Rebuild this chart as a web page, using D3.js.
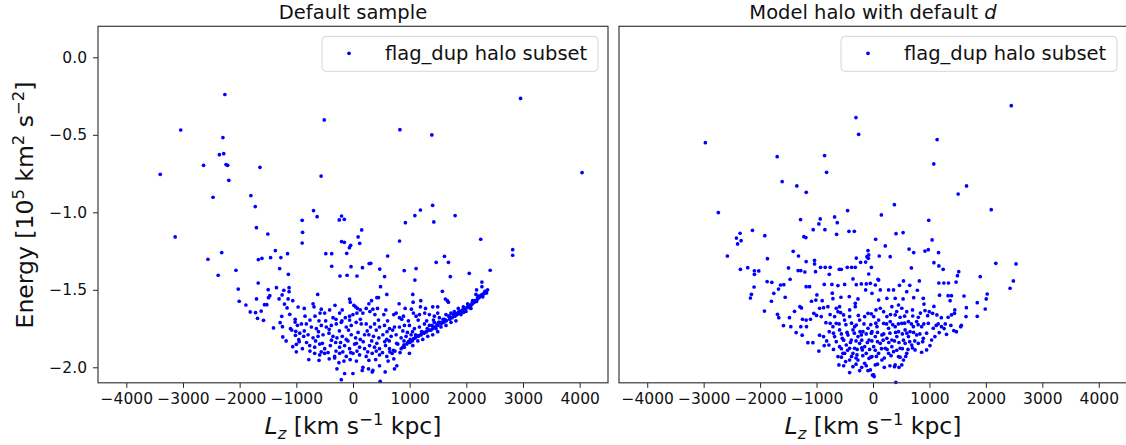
<!DOCTYPE html>
<html>
<head>
<meta charset="utf-8">
<script src="https://cdn.jsdelivr.net/npm/d3@7"></script>
<style>
  html, body { margin: 0; padding: 0; background: #fff; }
  svg { display: block; font-family: "DejaVu Sans", sans-serif; }
</style>
</head>
<body>
<div id="chart"></div>
<script>
/** values, [Lz (km/s kpc), Energy (1e5 km2/s2)] */
const xTicks = [-4000, -3000, -2000, -1000, 0, 1000, 2000, 3000, 4000];
const yTicks = [0, -0.5, -1.0, -1.5, -2.0];
const xDomain = [-4500, 4500];
const yDomain = [-2.1, 0.2];
const legendLabel = "flag_dup halo subset";

const defaultSample = [
  [-2261,-0.24],[2957,-0.265],[-508,-0.404],[-3040,-0.469],[828,-0.467],[1391,-0.501],[-2296,-0.518],
  [-2358,-0.628],[-2282,-0.622],[-2637,-0.697],[-2240,-0.692],[-2212,-0.697],[-1642,-0.71],[-3402,-0.755],
  [4042,-0.744],[-563,-0.766],[-2191,-0.794],[-1802,-0.892],[-2470,-0.903],[-1725,-0.963],[1405,-0.955],
  [-696,-0.989],[1190,-0.985],[1802,-1.021],[-633,-1.028],[1092,-1.021],[-202,-1.024],[-243,-1.049],
  [-153,-1.045],[-897,-1.052],[925,-1.067],[1426,-1.062],[-1704,-1.099],[153,-1.114],[-890,-1.129],
  [-1503,-1.14],[90,-1.159],[-3138,-1.159],[-202,-1.189],[821,-1.185],[-153,-1.194],[-897,-1.198],
  [2254,-1.174],[118,-1.2],[-42,-1.213],[-63,-1.228],[2818,-1.241],[2818,-1.277],[-1370,-1.247],
  [-2317,-1.26],[-1155,-1.267],[-480,-1.267],[-376,-1.267],[-111,-1.265],[612,-1.282],[1614,-1.284],
  [-2560,-1.303],[-1607,-1.297],[-1670,-1.305],[-1454,-1.292],[-1273,-1.292],[285,-1.331],[313,-1.329],
  [1468,-1.323],[1684,-1.323],[-2066,-1.374],[-1294,-1.363],[-376,-1.348],[-35,-1.351],[167,-1.357],
  [473,-1.366],[1113,-1.363],[2421,-1.374],[904,-1.376],[-2379,-1.406],[-1141,-1.4],[-230,-1.411],
  [-104,-1.406],[70,-1.411],[557,-1.415],[1718,-1.415],[1092,-1.437],[2052,-1.394],
  [-1673,-1.456],[-2025,-1.495],[-1497,-1.499],[-1351,-1.486],[-1221,-1.503],[-1128,-1.486],[-1128,-1.512],
  [-1251,-1.533],[-1468,-1.538],[-1491,-1.551],[-1703,-1.559],[-2008,-1.574],[-1890,-1.598],[-1562,-1.596],
  [-1521,-1.596],[-1304,-1.559],[-1210,-1.592],[-1145,-1.559],[-1063,-1.57],[-1163,-1.617],[-969,-1.611],
  [-1814,-1.643],[-1720,-1.647],[-1620,-1.637],[-1685,-1.684],[-1579,-1.697],[-1257,-1.671],[-1116,-1.658],
  [-1286,-1.712],[-1245,-1.738],[-1403,-1.746],[-1022,-1.708],[-981,-1.729],[-1104,-1.751],[-1010,-1.768],
  [-1239,-1.804],[-1016,-1.794],[-957,-1.822],[-999,-1.852],[-1063,-1.867],
  [486,-1.48],[-623,-1.53],[421,-1.55],[450,-1.55],[597,-1.53],[1055,-1.53],[1577,-1.51],[-705,-1.59],
  [-688,-1.61],[-318,-1.6],[-60,-1.56],[-48,-1.58],[16,-1.6],[46,-1.61],[327,-1.57],[280,-1.59],
  [433,-1.62],[814,-1.59],[920,-1.62],[1061,-1.58],[1196,-1.57],[1190,-1.61],[1407,-1.61],[1495,-1.61],
  [1630,-1.56],[1665,-1.57],[1683,-1.58],[1858,-1.62],
  [-846,-1.67],[-670,-1.67],[-582,-1.65],[-500,-1.65],[-482,-1.7],[-412,-1.63],[-353,-1.68],[-236,-1.65],
  [-195,-1.7],[-136,-1.68],[-60,-1.67],[-1,-1.66],[69,-1.65],[128,-1.63],[175,-1.65],[233,-1.62],
  [298,-1.64],[386,-1.66],[544,-1.66],[720,-1.66],[761,-1.65],[820,-1.68],[890,-1.67],[978,-1.7],
  [1066,-1.65],[1113,-1.67],[1172,-1.66],[1266,-1.65],[1348,-1.66],[1436,-1.67],[1495,-1.65],[1524,-1.68],
  [1641,-1.66],[1729,-1.65],[1788,-1.64],
  [-911,-1.72],[-823,-1.72],[-735,-1.74],[-647,-1.75],[-559,-1.73],[-471,-1.74],[-383,-1.73],[-295,-1.72],
  [-207,-1.71],[-119,-1.74],[-31,-1.73],[57,-1.71],[145,-1.72],[233,-1.72],[310,-1.74],[380,-1.72],
  [468,-1.74],[556,-1.73],[644,-1.75],[732,-1.74],[820,-1.74],[908,-1.73],[996,-1.73],[1084,-1.75],
  [1172,-1.74],[1260,-1.72],[1348,-1.73],[1436,-1.71],[1524,-1.71],[1612,-1.69],[1700,-1.67],[1771,-1.66],
  [1847,-1.65],
  [-940,-1.78],[-870,-1.8],[-793,-1.79],[-705,-1.81],[-617,-1.8],[-529,-1.79],[-424,-1.78],[-353,-1.8],
  [-283,-1.81],[-189,-1.8],[-119,-1.82],[-31,-1.79],[46,-1.81],[128,-1.82],[204,-1.79],[280,-1.79],
  [362,-1.8],[456,-1.81],[527,-1.79],[597,-1.82],[673,-1.8],[761,-1.79],[849,-1.81],[937,-1.8],
  [1025,-1.79],[1113,-1.8],[1202,-1.79],[1289,-1.77],[1377,-1.76],[1465,-1.75],[1553,-1.74],[1641,-1.73],
  [1729,-1.71],[1817,-1.7],
  [-893,-1.88],[-764,-1.86],[-676,-1.87],[-588,-1.85],[-500,-1.88],[-400,-1.86],[-306,-1.84],[-236,-1.87],
  [-148,-1.86],[-60,-1.88],[28,-1.85],[116,-1.87],[204,-1.88],[292,-1.86],[380,-1.87],[468,-1.88],
  [574,-1.86],[644,-1.88],[714,-1.89],[791,-1.85],[879,-1.87],[967,-1.84],[1055,-1.86],[1143,-1.83],
  [1231,-1.82],[1319,-1.8],[1407,-1.79],[1495,-1.77],
  [-676,-1.91],[-588,-1.92],[-500,-1.91],[-324,-1.93],[-236,-1.91],[-119,-1.93],[-1,-1.91],[116,-1.92],
  [233,-1.93],[339,-1.91],[468,-1.92],[597,-1.93],[691,-1.91],[996,-1.91],
  [-324,-1.94],[-248,-1.97],[-160,-1.96],[-148,-2.04],[-283,-2.01],[-1,-2.04],[175,-2.0],[163,-2.02],
  [274,-2.01],[351,-2.02],[468,-1.99],[568,-2.03],[339,-2.03],[732,-2.01],[773,-1.99],[-207,-2.08],[480,-2.09],
  [1876,-1.65],[1905,-1.64],[1935,-1.63],[1964,-1.63],[1993,-1.62],[2023,-1.61],[2052,-1.6],[2081,-1.6],
  [2111,-1.59],[2140,-1.58],[2170,-1.57],[2199,-1.56],[2228,-1.55],[2257,-1.54],[2287,-1.53],[2316,-1.52],
  [2345,-1.51],[2375,-1.5],[2357,-1.52],[2328,-1.51],[2275,-1.48],[2275,-1.45],[2170,-1.53],[2216,-1.54],
  [2111,-1.57],[2023,-1.59],[1947,-1.61],[2081,-1.62],[1993,-1.64],[1905,-1.66],[2181,-1.5],
  [850,-1.88],[905,-1.87],[950,-1.85],[1005,-1.84],[1045,-1.83],[1100,-1.81],[1150,-1.8],[1195,-1.79],
  [1255,-1.78],[1300,-1.77],[1345,-1.76],[1405,-1.75],[1450,-1.74],[1500,-1.73],[1555,-1.72],[1600,-1.71],
  [1645,-1.7],[1705,-1.69],[1750,-1.68],[1800,-1.67],[1010,-1.82],[1105,-1.79],[1210,-1.77],[1310,-1.75],
  [1395,-1.73],[1510,-1.71],[1590,-1.69],[1690,-1.67],[1790,-1.65],[1840,-1.66],[1870,-1.64],
  [-1080,-1.76],[-860,-1.765],[-610,-1.77],[-420,-1.755],[-240,-1.765],[-80,-1.76],[90,-1.775],[250,-1.765],
  [410,-1.76],[600,-1.77],[700,-1.76],[880,-1.765],[960,-1.775],[1050,-1.77],
  [-1180,-1.83],[-950,-1.835],[-820,-1.84],[-660,-1.83],[-540,-1.845],[-380,-1.825],[-220,-1.84],[-90,-1.83],
  [60,-1.845],[180,-1.835],[330,-1.83],[420,-1.845],[560,-1.835],[640,-1.83],[770,-1.845],[900,-1.83],
  [-1000,-1.9],[-760,-1.895],[-560,-1.9],[-440,-1.905],[-300,-1.895],[-180,-1.9],[-40,-1.905],[70,-1.895],
  [260,-1.9],[410,-1.895],[520,-1.905],[650,-1.9],[740,-1.895],[830,-1.905],
  [-780,-1.95],[-600,-1.955],[-420,-1.945],[-50,-1.95],[60,-1.96],[280,-1.955],[400,-1.95],[620,-1.96],[720,-1.945],
  [-1020,-1.69],[-760,-1.695],[-600,-1.7],[-300,-1.69],[-60,-1.695],[130,-1.69],[450,-1.695],[610,-1.7],
  [860,-1.69],[1150,-1.695],[1300,-1.7],[1420,-1.695],
  [-860,-1.62],[-560,-1.625],[-190,-1.63],[80,-1.62],[350,-1.625],[580,-1.63],[1030,-1.625],[1280,-1.62],
  [900,-1.855],[980,-1.835],[1070,-1.815],[1160,-1.795],[1240,-1.775],[1330,-1.76],[1420,-1.74],[1480,-1.725],
  [1560,-1.71],[1640,-1.695],[1720,-1.68],[1780,-1.665],[1860,-1.65],[1920,-1.635],[1960,-1.615],[2040,-1.6],
  [2100,-1.585],[2150,-1.57],[2200,-1.55],[2260,-1.535],[2310,-1.525],[1950,-1.645],[2060,-1.615],[2180,-1.575],
  [2290,-1.545]
];

const modelHalo = [
  [2450,-0.312],[-302,-0.389],[-254,-0.497],[-2970,-0.551],[1136,-0.531],[-1698,-0.641],[-858,-0.634],
  [1077,-0.688],[-822,-0.742],[-1609,-0.802],[-1349,-0.83],[-1183,-0.871],[1657,-0.83],[1509,-0.882],
  [379,-0.951],[-2740,-1.002],[2095,-0.983],[-450,-0.989],[148,-1.017],[-1284,-1.047],[-935,-1.043],
  [-959,-1.075],[-680,-1.03],[-633,-1.067],[988,-1.052],[-2136,-1.116],[-1059,-1.112],[-852,-1.112],
  [-426,-1.123],[-331,-1.123],[408,-1.138],[533,-1.131],[-2355,-1.135],[-2420,-1.166],[-2337,-1.183],
  [-1917,-1.151],[-1225,-1.157],[-1189,-1.163],[-645,-1.142],[47,-1.174],[1047,-1.178],
  [-2580,-1.282],[-2349,-1.368],[-2219,-1.357],[-2101,-1.4],[-2101,-1.377],[-2024,-1.378],[-2107,-1.482],
  [-2154,-1.529],[-2172,-1.553],[-1923,-1.637],[-1870,-1.299],[-1876,-1.447],[-1793,-1.452],[-1799,-1.574],
  [-1757,-1.523],[-1675,-1.495],[-1639,-1.469],[-1580,-1.467],[-1556,-1.548],[-1497,-1.359],[-1468,-1.432],
  [-1414,-1.252],[-1320,-1.282],[-1326,-1.376],[-1279,-1.376],[-1207,-1.385],[-1184,-1.318],[-1036,-1.31],
  [-1036,-1.333],[-1018,-1.383],[-929,-1.355],[-847,-1.355],[-758,-1.355],[-775,-1.4],[-598,-1.368],
  [-562,-1.368],[-456,-1.355],[-379,-1.355],[-314,-1.355],[-219,-1.323],[-130,-1.321],[-83,-1.297],
  [-296,-1.295],[-355,-1.43],[-296,-1.467],[-207,-1.462],[-119,-1.462],[-130,-1.501],[-1184,-1.48],
  [-1124,-1.48],[-864,-1.465],[-728,-1.465],[-621,-1.473],[-503,-1.465],[-994,-1.533],[-1012,-1.566],
  [-900,-1.57],[-722,-1.522],[-710,-1.557],[-568,-1.548],[-420,-1.544],[-314,-1.587],[-266,-1.559],
  [-314,-1.609],[-1296,-1.609],[-1267,-1.617],[-1089,-1.574],[-1391,-1.639],[-1692,-1.658],[-1669,-1.68],
  [-1586,-1.731],[-1480,-1.68],[-1456,-1.738],[-1361,-1.776],[-1279,-1.738],[-1249,-1.69],[-1184,-1.695],
  [-1107,-1.69],[-1178,-1.738],[-1255,-1.793],[-1154,-1.841],[-1065,-1.841],[-947,-1.793],[-864,-1.86],
  [-959,-1.895],[-1048,-1.652],[-947,-1.619],[-876,-1.615],[-799,-1.609],[-917,-1.673],[-834,-1.712],
  [-758,-1.716],[-710,-1.738],[-775,-1.77],[-876,-1.802],[-781,-1.856],[-680,-1.673],[-621,-1.641],
  [-574,-1.647],[-521,-1.662],[-414,-1.673],[-651,-1.619],[-592,-1.609],[-414,-1.63],[-503,-1.695],
  [-651,-1.716],[-592,-1.759],[-680,-1.802],[-592,-1.867],[-621,-1.931],[-604,-1.985],[-414,-2.034],
  [-503,-1.91],[-414,-1.953],[-355,-1.91],[-444,-1.791],[-355,-1.759],[-296,-1.727],[-237,-1.695],
  [-148,-1.673],[-89,-1.652],[-385,-1.824],[-266,-1.802],[-178,-1.77],[-89,-1.748],[-237,-1.845],
  [-148,-1.867],[-326,-1.877],[-119,-1.91],[-266,-1.953],[-148,-1.974],[-89,-2.021],[-474,-1.856],
  [-544,-1.813],[-89,-1.247],[-107,-1.286],[-2399,-1.204],[-326,-1.738],[-207,-1.791],[-71,-1.824],
  [-284,-1.92],[-189,-1.888],[-71,-1.942],[-355,-1.996],[-414,-1.877],[-533,-1.91],[-485,-1.963],
  [-237,-2.021],[-10,-2.05],[20,-2.06],
  [1900,-1.415],[2176,-1.329],[2534,-1.333],[2487,-1.443],[2428,-1.49],[2023,-1.527],[2006,-1.559],
  [1988,-1.624],[1847,-1.583],[1847,-1.671],[1613,-1.54],[1654,-1.615],[1648,-1.673],[1566,-1.729],
  [1554,-1.738],[1472,-1.45],[1496,-1.409],[1519,-1.383],[1331,-1.538],[1390,-1.538],[1366,-1.57],
  [1449,-1.63],[1443,-1.652],[1390,-1.662],[1331,-1.677],[1431,-1.763],[1478,-1.77],[1302,-1.787],
  [1255,-1.456],[1337,-1.456],[1167,-1.456],[1179,-1.535],[1243,-1.368],[1167,-1.346],[1079,-1.325],
  [921,-1.25],[980,-1.241],[721,-1.26],[639,-1.237],[680,-1.359],[540,-1.443],[821,-1.443],[786,-1.503],
  [651,-1.471],[598,-1.512],[533,-1.559],[469,-1.471],[721,-1.551],[891,-1.555],[903,-1.592],[1079,-1.607],
  [1132,-1.662],[1056,-1.652],[997,-1.641],[921,-1.634],[968,-1.667],[803,-1.677],[704,-1.669],[862,-1.738],
  [980,-1.716],[1068,-1.748],[1155,-1.72],[1214,-1.738],[1173,-1.776],[1097,-1.802],[1038,-1.824],
  [1009,-1.86],[950,-1.888],[862,-1.903],[745,-1.888],[686,-1.856],[628,-1.802],[569,-1.759],[510,-1.716],
  [774,-1.791],[891,-1.813],[803,-1.845],[598,-1.91],[540,-1.953],[452,-1.931],[393,-1.985],[510,-1.985],
  [381,-1.996],[405,-2.097],[334,-1.867],[334,-1.824],[422,-1.802],[452,-1.77],[393,-1.738],[305,-1.705],
  [246,-1.673],[188,-1.641],[129,-1.619],[53,-1.63],[12,-1.673],[100,-1.695],[188,-1.716],[276,-1.748],
  [70,-1.738],[-18,-1.77],[41,-1.802],[158,-1.791],[246,-1.813],[129,-1.845],[12,-1.867],[217,-1.877],
  [100,-1.91],[276,-1.91],[-18,-1.931],[158,-1.953],[41,-1.985],[-47,-2.017],[12,-2.049],[364,-1.899],
  [481,-1.877],[569,-1.845],[657,-1.77],[715,-1.738],[774,-1.705],[628,-1.705],[481,-1.677],[393,-1.662],
  [510,-1.619],[598,-1.641],[452,-1.598],[334,-1.609],[246,-1.555],[276,-1.501],[129,-1.501],[41,-1.469],
  [100,-1.437],[-76,-1.398],[-47,-1.458],[364,-1.501],[393,-1.555],[100,-1.566],[-18,-1.523],[1161,-1.26],
  [217,-1.217],[305,-1.286],[111,-1.282],[-76,-1.275],[-29,-1.355],[88,-1.432],
  [-700,-1.78],[-560,-1.785],[-460,-1.775],[-330,-1.78],[-230,-1.77],[-120,-1.785],[-30,-1.78],[80,-1.775],
  [190,-1.785],[300,-1.78],[400,-1.775],[520,-1.785],[600,-1.78],[720,-1.775],[830,-1.785],[950,-1.78],
  [-820,-1.83],[-650,-1.835],[-520,-1.825],[-400,-1.84],[-300,-1.83],[-200,-1.825],[-100,-1.84],[-20,-1.83],
  [80,-1.835],[180,-1.825],[280,-1.84],[380,-1.83],[460,-1.84],[540,-1.825],[650,-1.835],[740,-1.83],[880,-1.835],
  [-700,-1.885],[-560,-1.88],[-450,-1.89],[-280,-1.885],[-200,-1.875],[-60,-1.885],[40,-1.89],[150,-1.88],
  [250,-1.885],[420,-1.89],[520,-1.88],[620,-1.885],[700,-1.875],
  [-560,-1.935],[-380,-1.93],[-300,-1.94],[-180,-1.925],[-40,-1.935],[60,-1.93],[200,-1.94],[320,-1.925],
  [480,-1.935],[580,-1.93],
  [-520,-1.99],[-300,-1.98],[-200,-2.0],[-120,-1.99],[80,-1.98],[200,-2.0],[300,-1.99],[460,-2.0],
  [-600,-1.72],[-480,-1.725],[-380,-1.715],[-160,-1.72],[-40,-1.725],[50,-1.715],[240,-1.72],[350,-1.725],
  [450,-1.72],[560,-1.715],[680,-1.72],[800,-1.725],[900,-1.72],[1120,-1.73],[1260,-1.75],
  [-1000,-1.665],[-760,-1.66],[-260,-1.665],[-30,-1.655],[310,-1.66],[420,-1.64],[560,-1.67],[700,-1.63],
  [840,-1.65],[1210,-1.68],[1280,-1.72],[1380,-1.73]
];

const W = 1126, H = 445;

const svg = d3.select("#chart")
              .append("svg")
              .attr("width", W)
              .attr("height", H)
              .attr("viewBox", `0 0 ${W} ${H}`);

/** draws a run of tspans, each part: {t, italic, small, shift} shift in px (negative = up) */
function richText(sel, parts){
    let offset = 0;
    parts.forEach(p => {
        let sub = p.shift ?? 0;
        sel.append("tspan")
            .attr("dy", sub - offset)
            .attr("font-style", p.italic ? "italic" : null)
            .attr("font-size", p.small ? "70%" : null)
            .text(p.t);
        offset = sub;
    });
    return sel;
}

class ScatterPanel{
    constructor(svg, data, ...options){
        const [{ left, width, top, height, title, ylabels }] = options;

        this.svg = svg;
        this.data = data;
        this.left = left;
        this.width = width;
        this.top = top;
        this.height = height;
        this.title = title;
        this.ylabels = ylabels ?? false;
        this.g = svg.append("g").attr("transform", `translate(${left},${top})`);
        this.x = d3.scaleLinear().domain(xDomain).range([0, width]);
        this.y = d3.scaleLinear().domain(yDomain).range([height, 0]);

        this._axes();
        this._points();
        this._frame();
        this._legend();
        this._labels();
    };

    _axes(){
        let { g, x, y, height, ylabels } = this;

        let xa = g.append("g")
                  .attr("transform", `translate(0,${height})`)
                  .call(d3.axisBottom(x).tickValues(xTicks).tickFormat(d3.format("d"))
                          .tickSize(5).tickPadding(5));
        xa.select(".domain").remove();
        xa.selectAll("text").attr("font-size", 15.5).attr("fill", "#111").attr("font-family", "DejaVu Sans");
        xa.selectAll("line").attr("stroke", "#222").attr("stroke-width", 1);

        if(ylabels){
            let ya = g.append("g")
                      .call(d3.axisLeft(y).tickValues(yTicks).tickFormat(d3.format(".1f"))
                              .tickSize(5).tickPadding(6));
            ya.select(".domain").remove();
            ya.selectAll("text").attr("font-size", 15.5).attr("fill", "#111").attr("font-family", "DejaVu Sans");
            ya.selectAll("line").attr("stroke", "#222").attr("stroke-width", 1);
        }
    };

    _points(){
        let { g, x, y, data } = this;

        g.append("g")
            .selectAll("circle")
            .data(data)
            .enter()
            .append("circle")
                .attr("cx", d => x(d[0]))
                .attr("cy", d => y(d[1]))
                .attr("r", 1.85)
                .attr("fill", "#0000ff");
    };

    _frame(){
        let { g, width, height } = this;

        g.append("rect")
            .attr("x", 0).attr("y", 0)
            .attr("width", width).attr("height", height)
            .attr("fill", "none")
            .attr("stroke", "#3a3a3a")
            .attr("stroke-width", 1.2);
    };

    _legend(){
        let { g, width } = this;
        let bw = 276, bh = 35, bx = width - 10 - bw, by = 10;

        let lg = g.append("g").attr("transform", `translate(${bx},${by})`);
        lg.append("rect")
            .attr("width", bw).attr("height", bh)
            .attr("rx", 4)
            .attr("fill", "#fff").attr("fill-opacity", 0.8)
            .attr("stroke", "#d6d6d6");
        lg.append("circle")
            .attr("cx", 27).attr("cy", 17)
            .attr("r", 1.85)
            .attr("fill", "#0000ff");
        lg.append("text")
            .attr("x", 63).attr("y", 23.5)
            .attr("font-size", 19.5)
            .attr("fill", "#111")
            .text(legendLabel);
    };

    _labels(){
        let { svg, left, width, title } = this;
        let cx = left + width / 2;

        let t = svg.append("text")
                   .attr("x", cx).attr("y", 19)
                   .attr("text-anchor", "middle")
                   .attr("font-size", 19.5)
                   .attr("fill", "#111");
        richText(t, title);

        let xl = svg.append("text")
                    .attr("x", cx).attr("y", 434)
                    .attr("text-anchor", "middle")
                    .attr("font-size", 23.5)
                    .attr("fill", "#111");
        richText(xl, [
            { t: "L", italic: true },
            { t: "z", italic: true, small: true, shift: 5 },
            { t: " [km s" },
            { t: "\u22121", small: true, shift: -9 },
            { t: " kpc]" }
        ]);
    };
};

new ScatterPanel(svg, defaultSample, {
    left: 98, width: 510, top: 26.3, height: 356.5, ylabels: true,
    title: [{ t: "Default sample" }]
});
new ScatterPanel(svg, modelHalo, {
    left: 619, width: 508, top: 26.3, height: 356.5,
    title: [{ t: "Model halo with default " }, { t: "d", italic: true }]
});

/** shared y label */
let yl = svg.append("text")
            .attr("transform", `translate(33,205) rotate(-90)`)
            .attr("text-anchor", "middle")
            .attr("font-size", 23.5)
            .attr("fill", "#111");
richText(yl, [
    { t: "Energy [10" },
    { t: "5", small: true, shift: -9 },
    { t: " km" },
    { t: "2", small: true, shift: -9 },
    { t: " s" },
    { t: "\u22122", small: true, shift: -9 },
    { t: "]" }
]);
</script>
</body>
</html>
